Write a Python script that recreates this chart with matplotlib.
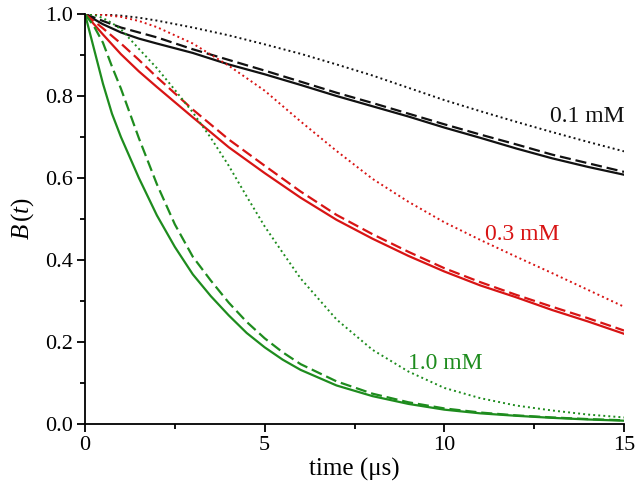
import matplotlib
matplotlib.use("Agg")
import matplotlib.pyplot as plt
from matplotlib.ticker import MultipleLocator

plt.rcParams['font.family'] = ['Liberation Serif', 'DejaVu Serif']
plt.rcParams['mathtext.fontset'] = 'custom'
plt.rcParams['mathtext.rm'] = 'Liberation Serif'
plt.rcParams['mathtext.it'] = 'Liberation Serif:italic'

# time grids (µs)
t_slow = [0, 0.5, 1, 1.5, 2, 3, 4, 5, 6, 7, 8, 9, 10, 11, 12, 13, 14, 15]
t_fast = [0, 0.25, 0.5, 0.75, 1, 1.5, 2, 2.5, 3, 3.5, 4, 4.5, 5, 5.5, 6, 7, 8, 9, 10, 11, 12, 13, 14, 15]

# 0.1 mM (black)
b01_solid = [1.0, 0.975, 0.955, 0.940, 0.928, 0.905, 0.877, 0.853, 0.827, 0.800, 0.775, 0.750, 0.723, 0.698, 0.672, 0.648, 0.627, 0.608]
b01_dash = [1.0, 0.983, 0.967, 0.955, 0.943, 0.914, 0.888, 0.862, 0.835, 0.808, 0.783, 0.757, 0.731, 0.706, 0.682, 0.657, 0.636, 0.615]
b01_dot = [1.0, 0.999, 0.996, 0.991, 0.984, 0.967, 0.948, 0.926, 0.903, 0.877, 0.850, 0.820, 0.790, 0.763, 0.737, 0.712, 0.688, 0.665]

# 0.3 mM (red)
b03_solid = [1.0, 0.950, 0.902, 0.860, 0.822, 0.748, 0.675, 0.612, 0.552, 0.498, 0.452, 0.410, 0.372, 0.338, 0.309, 0.278, 0.250, 0.220]
b03_dash = [1.0, 0.965, 0.928, 0.888, 0.846, 0.767, 0.694, 0.630, 0.567, 0.510, 0.463, 0.420, 0.380, 0.346, 0.315, 0.286, 0.258, 0.228]
b03_dot = [1.0, 0.998, 0.993, 0.983, 0.968, 0.928, 0.874, 0.813, 0.738, 0.666, 0.598, 0.542, 0.492, 0.449, 0.408, 0.368, 0.327, 0.286]

# 1.0 mM (green)
b10_solid = [1.0, 0.915, 0.830, 0.757, 0.700, 0.600, 0.509, 0.432, 0.365, 0.312, 0.265, 0.222, 0.187, 0.157, 0.132, 0.094, 0.068, 0.049, 0.035, 0.026, 0.020, 0.015, 0.011, 0.008]
b10_dash = [1.0, 0.970, 0.930, 0.872, 0.818, 0.697, 0.585, 0.487, 0.408, 0.350, 0.296, 0.249, 0.209, 0.175, 0.146, 0.104, 0.074, 0.053, 0.038, 0.028, 0.021, 0.016, 0.012, 0.009]
b10_dot = [1.0, 0.998, 0.990, 0.978, 0.963, 0.915, 0.868, 0.815, 0.760, 0.698, 0.630, 0.555, 0.482, 0.418, 0.355, 0.255, 0.181, 0.128, 0.088, 0.063, 0.045, 0.033, 0.023, 0.016]

labels = ["0.1 mM", "0.3 mM", "1.0 mM"]
colors = ["#111111", "#d81414", "#1e8c1e"]

fig = plt.figure(figsize=(6.38, 4.93), dpi=100)
ax = fig.add_axes([85/638, 69/493, 539/638, 410/493])

lw = 1.6
dash = (0, (5, 2.2))
dot = (0, (1, 1.6))
groups = [
    (t_slow, b01_solid, b01_dash, b01_dot, colors[0]),
    (t_slow, b03_solid, b03_dash, b03_dot, colors[1]),
    (t_fast, b10_solid, b10_dash, b10_dot, colors[2]),
]
for t, s, d, o, c in groups:
    ax.plot(t, s, color=c, lw=lw, ls='-')
    ax.plot(t, d, color=c, lw=lw, ls=dash)
    ax.plot(t, o, color=c, lw=1.4, ls=dot)

ax.text(12.94, 0.75, labels[0], color=colors[0], fontsize=17, va='center', ha='left')
ax.text(11.13, 0.461, labels[1], color=colors[1], fontsize=17, va='center', ha='left')
ax.text(8.99, 0.148, labels[2], color=colors[2], fontsize=17, va='center', ha='left')

ax.set_xlim(0, 15)
ax.set_ylim(0, 1.0)
ax.xaxis.set_major_locator(MultipleLocator(5))
ax.xaxis.set_minor_locator(MultipleLocator(2.5))
ax.yaxis.set_major_locator(MultipleLocator(0.2))
ax.yaxis.set_minor_locator(MultipleLocator(0.1))
ax.set_yticklabels([f"{v:.1f}" for v in ax.get_yticks()])
ax.set_xticklabels([f"{int(v)}" for v in ax.get_xticks()])
ax.tick_params(which='major', direction='out', length=6, width=1.3, labelsize=16, pad=3)
ax.tick_params(which='minor', direction='out', length=3.6, width=1.3)
for side in ['top', 'right']:
    ax.spines[side].set_visible(False)
for side in ['left', 'bottom']:
    ax.spines[side].set_linewidth(1.3)

ax.set_xlabel("time (μs)", fontsize=18, labelpad=2)
ax.set_ylabel(r"$B\,(t)$", fontsize=18, labelpad=6)

fig.savefig("out.png", dpi=100)
